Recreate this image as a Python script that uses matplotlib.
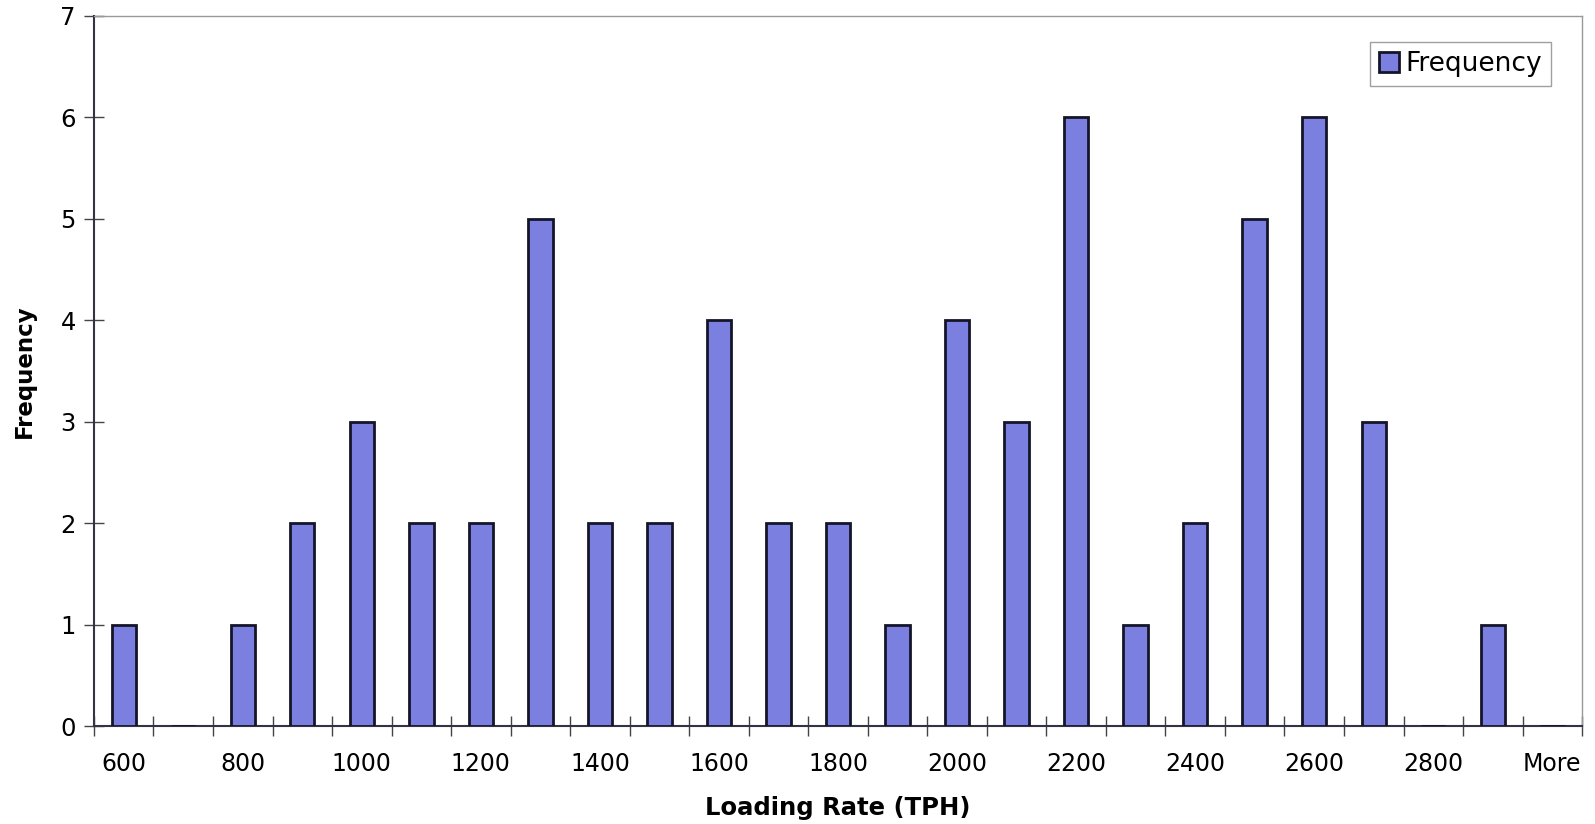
import matplotlib
matplotlib.use("Agg")
import matplotlib.pyplot as plt
import numpy as np

bins = ['600', '700', '800', '900', '1000', '1100', '1200', '1300', '1400', '1500',
        '1600', '1700', '1800', '1900', '2000', '2100', '2200', '2300', '2400', '2500',
        '2600', '2700', '2800', '2900', 'More']
frequency = [1, 0, 1, 2, 3, 2, 2, 5, 2, 2,
             4, 2, 2, 1, 4, 3, 6, 1, 2, 5,
             6, 3, 0, 1, 0]

plt.rcParams['font.family'] = ['DejaVu Sans']

fig = plt.figure(figsize=(15.95, 8.24), dpi=100)
ax = fig.add_axes([0.0589, 0.1189, 0.933, 0.8617])

x = np.arange(len(bins))
ax.bar(x, frequency, width=0.41, color='#7b80e0', edgecolor='#15152a',
       linewidth=2, label='Frequency', zorder=3)

ax.set_xlim(-0.5, len(bins) - 0.5)
ax.set_ylim(0, 7)

ax.set_xticks(x[::2])
ax.set_xticklabels(bins[::2], fontsize=17)
ax.set_xticks(np.arange(-0.5, len(bins)), minor=True)
ax.tick_params(axis='x', which='major', length=0, pad=19)
ax.tick_params(axis='x', which='minor', length=14, direction='inout', width=1, color='#444444')

ax.set_yticks(range(8))
ax.tick_params(axis='y', labelsize=17.5, length=14, direction='inout', width=1,
               color='#444444', pad=6)

for s in ['left', 'bottom']:
    ax.spines[s].set_color('#333344')
    ax.spines[s].set_linewidth(1.5)
for s in ['top', 'right']:
    ax.spines[s].set_color('#999999')
    ax.spines[s].set_linewidth(1)

ax.set_xlabel('Loading Rate (TPH)', fontsize=17.5, fontweight='bold', labelpad=14)
ax.set_ylabel('Frequency', fontsize=16.5, fontweight='bold', labelpad=18)

leg = ax.legend(loc='upper right', bbox_to_anchor=(0.988, 0.982), fontsize=19,
                frameon=True, fancybox=False, handlelength=0.75, handleheight=0.75,
                handletextpad=0.25, borderpad=0.35, borderaxespad=0.5)
leg.get_frame().set_edgecolor('#888888')
leg.get_frame().set_linewidth(1)

fig.savefig('out.png', dpi=100)
